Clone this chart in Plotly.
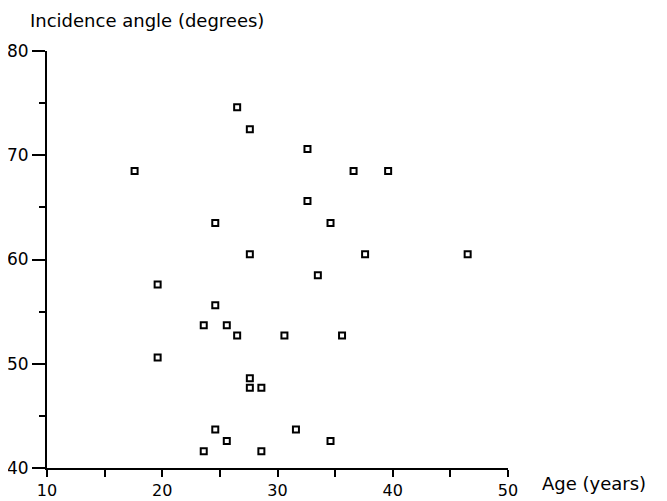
import plotly.graph_objects as go

age = [26.5, 27.6, 32.6, 17.6, 36.6, 39.6, 32.6, 24.6, 34.6, 27.6,
       37.6, 46.5, 33.5, 19.6, 24.6, 23.6, 25.6, 26.5, 30.6, 35.6,
       19.6, 27.6, 27.6, 28.6, 24.6, 31.6, 25.6, 34.6, 23.6, 28.6]
angle = [74.6, 72.5, 70.6, 68.5, 68.5, 68.5, 65.6, 63.5, 63.5, 60.5,
         60.5, 60.5, 58.5, 57.6, 55.6, 53.7, 53.7, 52.7, 52.7, 52.7,
         50.6, 48.6, 47.7, 47.7, 43.7, 43.7, 42.6, 42.6, 41.6, 41.6]

x_ticks = [10, 20, 30, 40, 50]
y_ticks = [40, 50, 60, 70, 80]

FONT = "DejaVu Sans"

fig = go.Figure()
fig.add_trace(go.Scatter(
    x=age, y=angle, mode="markers",
    marker=dict(symbol="square-open", size=6, color="black",
                line=dict(color="black", width=2)),
    showlegend=False, cliponaxis=False,
))

fig.update_layout(
    width=659, height=493,
    margin=dict(l=39, r=159, t=43, b=33),
    paper_bgcolor="white", plot_bgcolor="white",
    font=dict(family=FONT, size=16, color="black"),
    xaxis=dict(
        range=[10, 50], tickvals=x_ticks, ticktext=[str(v) for v in x_ticks],
        showgrid=False, zeroline=False, showline=True, linecolor="black", linewidth=2,
        ticks="outside", ticklen=7, tickwidth=2, tickcolor="black",
        ticklabelstandoff=0, automargin=False,
        minor=dict(dtick=5, tick0=10, ticks="outside", ticklen=7, tickwidth=1.5, tickcolor="black", showgrid=False),
        tickfont=dict(family=FONT, size=16),
    ),
    yaxis=dict(
        range=[40, 80], tickvals=y_ticks, ticktext=[str(v) for v in y_ticks],
        showgrid=False, zeroline=False, showline=True, linecolor="black", linewidth=2,
        ticks="outside", ticklen=13, tickwidth=2, tickcolor="black",
        automargin=False,
        minor=dict(dtick=5, tick0=40, ticks="outside", ticklen=6, tickwidth=1.5, tickcolor="black", showgrid=False),
        tickfont=dict(family=FONT, size=17),
    ),
    annotations=[
        dict(text="Incidence angle (degrees)", xref="paper", yref="paper",
             x=0, y=1, xanchor="left", yanchor="middle", xshift=-19, yshift=31,
             showarrow=False, font=dict(family=FONT, size=18)),
        dict(text="Age (years)", xref="paper", yref="paper",
             x=1, y=0, xanchor="left", yanchor="middle", xshift=32, yshift=-15,
             showarrow=False, font=dict(family=FONT, size=18)),
    ],
)

fig.write_html("out.html")
